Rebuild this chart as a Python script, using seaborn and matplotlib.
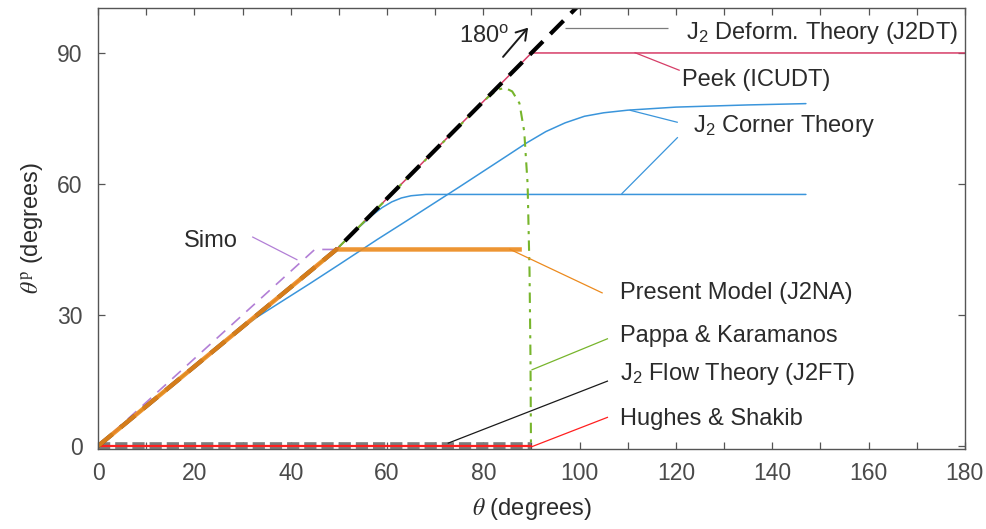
import matplotlib
matplotlib.use("Agg")
import matplotlib.pyplot as plt
from matplotlib.ticker import FixedLocator
import seaborn as sns

# ---- curves: theta (deg) vs plastic-strain direction theta^p (deg) ----
j2dt_theta = [0, 49.5, 90, 101]
j2dt_thetap = [0, 45, 90, 102.2]

peek_theta = [0, 49.5, 90, 180]
peek_thetap = [0, 45, 90, 90]

j2na_theta = [0, 49.5, 88]
j2na_thetap = [0, 45, 45]

simo_theta = [0, 45, 49.5]
simo_thetap = [0, 45, 45]

pk_theta = [0, 49.5, 81, 83, 84.5, 86, 87.5, 88.5, 89.2, 89.6, 89.8, 89.9]
pk_thetap = [0, 45, 79.9, 81.6, 82.0, 81.2, 78.5, 72, 60, 40, 20, 0]

corner_a_theta = [0, 49.5, 53, 55, 57, 59, 61, 63, 65, 68, 147]
corner_a_thetap = [0, 45, 48.9, 50.9, 52.9, 54.6, 55.9, 56.8, 57.3, 57.6, 57.6]

corner_b_theta = [0, 28, 33, 38, 44, 50, 58, 64, 75, 85, 89, 93, 97, 101, 105, 110, 120, 135, 147]
corner_b_thetap = [0, 25.5, 29.5, 33, 37.2, 41.5, 47.3, 51.5, 59.3, 66.5, 69.4, 72, 74, 75.5, 76.3, 76.9, 77.6, 78.1, 78.4]

j2ft_theta = [0, 90]
j2ft_thetap = [0, 0]

hs_theta = [0, 90]
hs_thetap = [0, 0]

x_ticks = list(range(0, 181, 10))
x_ticklabels = [str(v) if v % 20 == 0 else "" for v in x_ticks]
y_ticks = [0, 30, 60, 90]

# ---- colours ----
c_blue = "#3a95db"
c_orange = "#ec8a1d"
c_green = "#77b52c"
c_purple = "#b27fd6"
c_peek = "#d63d67"
c_red = "#ff1f1f"
c_gray = "#7c7c7c"
c_text = "#2b2b2b"

sns.set_theme(style="ticks")
plt.rcParams["font.family"] = ["Liberation Sans", "DejaVu Sans"]
plt.rcParams["mathtext.fontset"] = "custom"
plt.rcParams["mathtext.rm"] = "Liberation Sans"
plt.rcParams["mathtext.it"] = "Liberation Sans:italic"

fig = plt.figure(figsize=(9.86, 5.29), dpi=100)
ax = fig.add_axes([0.0995, 0.1512, 0.879, 0.8337])


def draw(xs, ys, **kw):
    sns.lineplot(x=xs, y=ys, ax=ax, estimator=None, sort=False, legend=False, **kw)


# flow theory and Hughes & Shakib on the theta^p = 0 axis
draw(j2ft_theta, j2ft_thetap, color=c_gray, linewidth=5.5, linestyle=(0, (1.6, 0.65)),
     solid_capstyle="butt", dash_capstyle="butt")
draw(hs_theta, hs_thetap, color=c_red, linewidth=1.6)

draw(corner_b_theta, corner_b_thetap, color=c_blue, linewidth=1.1)
draw(corner_a_theta, corner_a_thetap, color=c_blue, linewidth=1.1)
draw(simo_theta, simo_thetap, color=c_purple, linewidth=1.2, linestyle=(0, (7, 5)))
draw(peek_theta, peek_thetap, color=c_peek, linewidth=1.1)
draw(pk_theta, pk_thetap, color=c_green, linewidth=1.5, linestyle=(0, (5, 3, 1.5, 3)))
draw(j2dt_theta, j2dt_thetap, color="black", linewidth=3.0, linestyle=(0, (4.5, 2.5)),
     dash_capstyle="butt")
draw(j2na_theta, j2na_thetap, color=c_orange, linewidth=3.2, alpha=0.9,
     solid_capstyle="butt")

# ---- callouts ----
label_texts = [
    "J$_2$ Deform. Theory (J2DT)",
    "Peek (ICUDT)",
    "J$_2$ Corner Theory",
    "Present Model (J2NA)",
    "Pappa & Karamanos",
    "J$_2$ Flow Theory (J2FT)",
    "Hughes & Shakib",
    "Simo",
]
label_pos = [(122.0, 93.2), (121.2, 82.5), (123.5, 71.9), (108.3, 33.75),
             (108.3, 23.8), (108.3, 15.06), (108.3, 4.76), (17.9, 45.65)]

leader_lines = [
    ((96.9, 95.7), (118.3, 95.7), c_gray),
    ((111.4, 90.1), (120.8, 86.0), c_peek),
    ((110.4, 76.9), (120.4, 74.1), c_blue),
    ((108.7, 57.7), (120.4, 70.7), c_blue),
    ((85.4, 45.1), (104.8, 35.0), c_orange),
    ((90.0, 17.4), (105.9, 24.6), c_green),
    ((72.6, 0.6), (105.9, 14.9), "#1a1a1a"),
    ((90.0, -0.2), (105.9, 6.6), c_red),
    ((32.0, 47.9), (41.4, 42.6), c_purple),
]
for (x0, y0), (x1, y1), col in leader_lines:
    ax.plot([x0, x1], [y0, y1], color=col, linewidth=0.9, solid_capstyle="butt")

for txt, (tx, ty) in zip(label_texts, label_pos):
    ax.text(tx, ty, txt, fontsize=17, color=c_text, ha="left", va="baseline")

ax.annotate("", xy=(89.3, 95.8), xytext=(84.1, 89.1),
            arrowprops=dict(arrowstyle="->,head_length=0.6,head_width=0.38",
                            color="#1a1a1a", lw=1.4, shrinkA=0, shrinkB=0))
ax.text(75.0, 92.2, "180$^{\\mathrm{o}}$", fontsize=17, color=c_text, ha="left", va="baseline")

# ---- axes ----
ax.set_xlim(0, 180)
ax.set_ylim(-0.7, 100.3)
ax.xaxis.set_major_locator(FixedLocator(x_ticks))
ax.set_xticklabels(x_ticklabels)
ax.yaxis.set_major_locator(FixedLocator(y_ticks))
ax.tick_params(axis="both", which="both", direction="in", length=5, width=0.9,
               top=True, right=True, color="#555555", labelcolor="#4a4a4a",
               labelsize=16.5)
ax.tick_params(axis="x", pad=9)
ax.tick_params(axis="y", pad=11)
for sp in ax.spines.values():
    sp.set_visible(True)
    sp.set_color("#555555")
    sp.set_linewidth(1.0)

ax.set_xlabel("$\\theta$ (degrees)", fontsize=17, color=c_text, labelpad=8,
              math_fontfamily="stix")
ax.set_ylabel("$\\theta^{\\mathrm{p}}$ (degrees)", fontsize=17, color=c_text, labelpad=8,
              math_fontfamily="stix")

fig.savefig("out.png", dpi=100, facecolor="white")
